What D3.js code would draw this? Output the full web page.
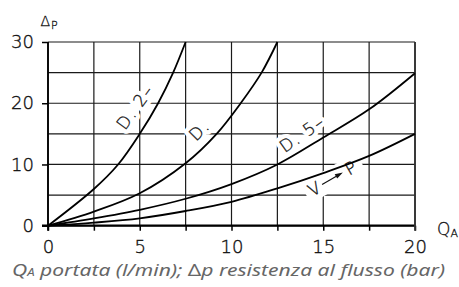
<!DOCTYPE html>
<html><head><meta charset="utf-8">
<script src="https://cdn.jsdelivr.net/npm/d3@7/dist/d3.min.js"></script>
<style>
html,body{margin:0;padding:0;background:#fff;}
svg{display:block;}
</style></head>
<body>
<script>
// ---- data ----
const xTicks = [0, 5, 10, 15, 20];
const yTicks = [0, 10, 20, 30];
const xGrid = [0, 2.5, 5, 7.5, 10, 12.5, 15, 17.5, 20];
const yGrid = [0, 5, 10, 15, 20, 25, 30];

const seriesNames = ["D. 2–", "D.", "D. 5–", "V→P"];
const d2Q  = [0, 2.5, 3.82, 5, 6.0, 6.82, 7.5];
const d2P  = [0, 6.0, 10, 15, 20, 25, 30];
const dQ   = [0, 2.5, 5, 7.5, 9.19, 10.5, 11.64, 12.5];
const dP   = [0, 2.3, 5.3, 10.2, 15, 20, 25, 30];
const d5Q  = [0, 2.5, 5, 7.5, 10, 12.5, 15, 17.5, 20];
const d5P  = [0, 1.2, 2.6, 4.4, 6.8, 10.0, 14.4, 19.0, 24.9];
const vpQ  = [0, 2.5, 5, 7.5, 10, 12.5, 15, 17.5, 20];
const vpP  = [0, 0.5, 1.2, 2.4, 3.9, 6.1, 8.6, 11.4, 15.0];

const W = 459, H = 287;
const svg = d3.select("body").append("svg").attr("width", W).attr("height", H);

const x = d3.scaleLinear().domain([0, 20]).range([48, 415]);
const y = d3.scaleLinear().domain([0, 30]).range([225.7, 42]);

const gridColor = "#1a1a1a";
const font = "'DejaVu Sans', 'Liberation Sans', sans-serif";

// grid
const grid = svg.append("g");
grid.selectAll("line.v").data(xGrid).join("line")
  .attr("x1", d => x(d)).attr("x2", d => x(d))
  .attr("y1", y(30)).attr("y2", y(0))
  .attr("stroke", gridColor).attr("stroke-width", 1.2);
grid.selectAll("line.h").data(yGrid).join("line")
  .attr("x1", x(0)).attr("x2", x(20))
  .attr("y1", d => y(d)).attr("y2", d => y(d))
  .attr("stroke", gridColor).attr("stroke-width", 1.2);

// axes
const xAxis = svg.append("g").attr("transform", `translate(0,${y(0)})`)
  .call(d3.axisBottom(x).tickValues(xGrid).tickSize(5).tickPadding(10)
    .tickFormat(d => xTicks.includes(d) ? d3.format("d")(d) : ""));
const yAxis = svg.append("g").attr("transform", `translate(${x(0)},0)`)
  .call(d3.axisLeft(y).tickValues(yTicks).tickSize(6).tickPadding(8));
[xAxis, yAxis].forEach(a => {
  a.select(".domain").remove();
  a.selectAll(".tick line").attr("stroke", "#000").attr("stroke-width", 1.5);
  a.selectAll("text").attr("font-family", font).attr("font-weight", 200)
    .attr("font-size", 18).attr("fill", "#111").attr("stroke", "#111").attr("stroke-width", 0.35);
});
// emphasised axis lines
svg.append("line").attr("x1", x(0) - 6).attr("x2", x(20)).attr("y1", y(0)).attr("y2", y(0))
  .attr("stroke", "#000").attr("stroke-width", 2.2);
svg.append("line").attr("x1", x(0)).attr("x2", x(0)).attr("y1", y(30)).attr("y2", y(0) + 5)
  .attr("stroke", "#000").attr("stroke-width", 1.8);
svg.append("line").attr("x1", x(20)).attr("x2", x(20)).attr("y1", y(30)).attr("y2", y(0) + 5)
  .attr("stroke", "#333").attr("stroke-width", 1.8);

// curve labels (white halo breaks grid lines)
function label(txt, cx, cy, ang) {
  const g = svg.append("g").attr("transform", `translate(${cx},${cy}) rotate(${ang})`);
  g.append("text").text(txt).attr("text-anchor", "middle").attr("dy", "0.35em")
    .attr("font-family", font).attr("font-weight", 200).attr("font-size", 17)
    .attr("letter-spacing", 1.5)
    .attr("stroke", "#fff").attr("stroke-width", 9).attr("stroke-linejoin", "round")
    .attr("fill", "#fff");
  g.append("text").text(txt).attr("text-anchor", "middle").attr("dy", "0.35em")
    .attr("font-family", font).attr("font-weight", 200).attr("font-size", 17)
    .attr("letter-spacing", 1.5)
    .attr("fill", "#111").attr("stroke", "#111").attr("stroke-width", 0.3);
  return g;
}
label(seriesNames[0], x(4.75), y(19.4), -54);
label(seriesNames[1], x(8.25), y(15.6), -45);
label(seriesNames[2], x(13.85), y(15.0), -35);

// V -> P label
{
  const g = svg.append("g").attr("transform", `translate(${x(15.55)},${y(7.8)}) rotate(-30)`);
  g.append("rect").attr("x", -32).attr("y", -11).attr("width", 64).attr("height", 22).attr("fill", "#fff");
  g.append("text").text("V").attr("x", -22).attr("dy", "0.35em").attr("text-anchor", "middle")
    .attr("font-family", font).attr("font-weight", 200).attr("font-size", 17)
    .attr("fill", "#111").attr("stroke", "#111").attr("stroke-width", 0.3);
  g.append("line").attr("x1", -13).attr("x2", 4).attr("y1", 0).attr("y2", 0)
    .attr("stroke", "#111").attr("stroke-width", 1.2);
  g.append("path").attr("d", "M11,0 L3,-2.5 L3,2.5 Z").attr("fill", "#111");
  g.append("text").text("P").attr("x", 20).attr("dy", "0.35em").attr("text-anchor", "middle")
    .attr("font-family", font).attr("font-weight", 200).attr("font-size", 17)
    .attr("fill", "#111").attr("stroke", "#111").attr("stroke-width", 0.3);
}

// curves
const line = d3.line().x(d => x(d[0])).y(d => y(d[1])).curve(d3.curveCatmullRom.alpha(0.5));
const series = [
  d3.zip(d2Q, d2P), d3.zip(dQ, dP), d3.zip(d5Q, d5P), d3.zip(vpQ, vpP)
];
svg.append("g").selectAll("path").data(series).join("path")
  .attr("d", line).attr("fill", "none").attr("stroke", "#000").attr("stroke-width", 1.8);

// axis titles
const yt = svg.append("text").attr("x", 40.5).attr("y", 26).attr("font-family", font)
  .attr("font-weight", 200).attr("fill", "#111").attr("stroke", "#111").attr("stroke-width", 0.3);
yt.append("tspan").text("Δ").attr("font-size", 14);
yt.append("tspan").text("P").attr("font-size", 11).attr("dx", 1).attr("dy", 2.5);

const xt = svg.append("text").attr("x", 437).attr("y", 235).attr("font-family", font)
  .attr("font-weight", 200).attr("fill", "#111").attr("stroke", "#111").attr("stroke-width", 0.3);
xt.append("tspan").text("Q").attr("font-size", 17);
xt.append("tspan").text("A").attr("font-size", 11).attr("dy", 1.5);

// caption
const cap = svg.append("text").attr("x", 12).attr("y", 276)
  .attr("font-family", "'Noto Sans', 'Open Sans', sans-serif").attr("font-style", "italic")
  .attr("font-size", 16).attr("fill", "#666")
  .attr("textLength", 433).attr("lengthAdjust", "spacingAndGlyphs");
cap.append("tspan").text("Q");
cap.append("tspan").text("A").attr("font-size", 10);
cap.append("tspan").text(" portata (l/min); ");
cap.append("tspan").text("Δ").attr("font-style", "normal");
cap.append("tspan").text("p resistenza al flusso (bar)");
</script>
</body></html>
